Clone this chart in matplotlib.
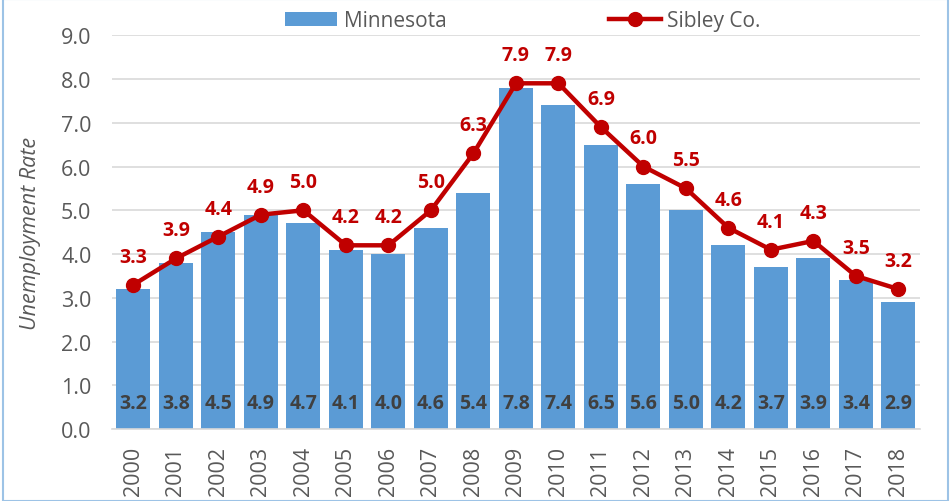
import matplotlib.pyplot as plt
import numpy as np

years = [str(y) for y in range(2000, 2019)]
minnesota = [3.2, 3.8, 4.5, 4.9, 4.7, 4.1, 4.0, 4.6, 5.4, 7.8, 7.4, 6.5, 5.6, 5.0, 4.2, 3.7, 3.9, 3.4, 2.9]
sibley = [3.3, 3.9, 4.4, 4.9, 5.0, 4.2, 4.2, 5.0, 6.3, 7.9, 7.9, 6.9, 6.0, 5.5, 4.6, 4.1, 4.3, 3.5, 3.2]

BAR_COLOR = "#5B9BD5"
LINE_COLOR = "#C00000"
TEXT_COLOR = "#595959"

plt.rcParams["font.family"] = ["Open Sans", "DejaVu Sans"]

fig = plt.figure(figsize=(9.51, 5.02), dpi=100)
ax = fig.add_axes([0.118, 0.143, 0.849, 0.785])

x = np.arange(len(years))
bars = ax.bar(x, minnesota, width=0.8, color=BAR_COLOR, label="Minnesota", zorder=2)
line, = ax.plot(x, sibley, color=LINE_COLOR, lw=3.2, marker="o", ms=10,
                label="Sibley Co.", zorder=3)

# bar labels near the base
for xi, v in zip(x, minnesota):
    ax.text(xi, 0.6, f"{v:.1f}", ha="center", va="center", fontsize=14,
            fontweight="bold", color="#404040", zorder=4)

# line labels above the points
for xi, v in zip(x, sibley):
    ax.annotate(f"{v:.1f}", (xi, v), textcoords="offset points", xytext=(0, 13),
                ha="center", va="bottom", fontsize=14, fontweight="bold",
                color=LINE_COLOR, zorder=4)

ax.set_xlim(-0.5, len(years) - 0.5)
ax.set_ylim(0, 9)
ax.set_yticks(np.arange(0, 9.1, 1.0))
ax.set_yticklabels([f"{t:.1f}" for t in np.arange(0, 9.1, 1.0)])
ax.set_xticks(x)
ax.set_xticklabels(years, rotation=90)
ax.tick_params(axis="both", length=0, labelsize=15.5, colors=TEXT_COLOR)
ax.tick_params(axis="y", pad=15)
ax.tick_params(axis="x", pad=12)
ax.yaxis.grid(True, color="#D9D9D9", lw=1.2, zorder=0)
ax.set_axisbelow(True)
for s in ["top", "right", "left"]:
    ax.spines[s].set_visible(False)
ax.spines["bottom"].set_color("#D9D9D9")
ax.spines["bottom"].set_linewidth(1.2)

ax.set_ylabel("Unemployment Rate", fontsize=15.5, style="italic", color=TEXT_COLOR, labelpad=14)

fig.legend([bars, line], ["Minnesota", "Sibley Co."], loc="upper center",
           bbox_to_anchor=(0.55, 1.015), ncol=2, frameon=False,
           fontsize=15, labelcolor=TEXT_COLOR, handlelength=2.5, handletextpad=0.3,
           columnspacing=7.8)

# light blue frame around the figure
fig.patches.append(plt.Rectangle((0.003, 0.0), 0.994, 1.0, transform=fig.transFigure,
                                 fill=False, edgecolor="#9DC3E6", lw=1.5))

fig.savefig("out.png", dpi=100)
